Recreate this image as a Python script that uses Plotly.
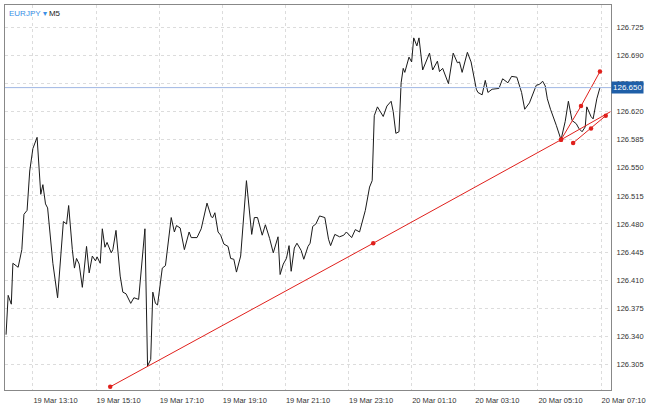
import plotly.graph_objects as go

# minutes relative to 19 Mar 13:10
minutes = [-51,-47,-41,-38,-28,-21,-17,-11,-6,0,8,15,19,24,28,38,47,58,64,68,75,79,83,88,94,102,107,113,119,122,128,132,137,141,149,152,158,166,171,177,186,192,201,213,218,224,228,233,237,246,252,263,269,273,280,288,297,301,312,320,331,339,342,346,352,357,363,371,376,382,387,395,406,412,416,421,427,436,442,450,457,466,470,476,482,487,491,497,502,510,515,523,527,532,538,545,555,562,566,574,583,591,596,606,613,621,632,640,645,649,655,666,673,681,685,690,696,700,704,707,715,720,724,730,734,741,754,760,769,773,779,790,799,807,811,816,826,833,843,846,854,860,865,873,886,893,903,910,920,929,935,944,957,963,969,974,978,984,989,995,1004,1012,1018,1025,1033,1038,1044,1050,1053,1061,1065,1072,1078]
prices = [126.342,126.391,126.380,126.431,126.426,126.448,126.492,126.497,126.546,126.574,126.588,126.517,126.529,126.505,126.500,126.431,126.388,126.483,126.480,126.503,126.448,126.425,126.437,126.430,126.401,126.452,126.419,126.440,126.434,126.439,126.431,126.474,126.451,126.457,126.444,126.448,126.472,126.415,126.395,126.393,126.381,126.388,126.386,126.474,126.303,126.311,126.395,126.381,126.379,126.425,126.428,126.488,126.470,126.478,126.475,126.448,126.470,126.463,126.463,126.474,126.506,126.489,126.488,126.494,126.470,126.466,126.455,126.452,126.437,126.436,126.420,126.440,126.534,126.489,126.467,126.488,126.488,126.466,126.479,126.462,126.444,126.464,126.417,126.430,126.437,126.453,126.421,126.450,126.456,126.447,126.436,126.452,126.456,126.477,126.480,126.490,126.488,126.461,126.453,126.467,126.464,126.466,126.470,126.463,126.473,126.470,126.497,126.526,126.534,126.615,126.626,126.614,126.627,126.633,126.620,126.593,126.595,126.656,126.674,126.669,126.688,126.682,126.712,126.702,126.712,126.672,126.693,126.672,126.683,126.670,126.674,126.655,126.693,126.681,126.682,126.669,126.694,126.682,126.648,126.644,126.641,126.659,126.644,126.648,126.649,126.661,126.656,126.664,126.663,126.644,126.623,126.631,126.653,126.654,126.658,126.652,126.636,126.623,126.615,126.603,126.585,126.608,126.633,126.609,126.605,126.599,126.595,126.601,126.626,126.614,126.611,126.636,126.650]

trend_x = [147, 647, 1004, 1098]
trend_y = [126.277, 126.456, 126.585, 126.620]
trend_mx = [147, 647, 1004]
trend_my = [126.277, 126.456, 126.585]
fork_x = [1004, 1042, 1078]
fork_y = [126.585, 126.627, 126.670]
chan_x = [1027, 1061, 1089]
chan_y = [126.581, 126.599, 126.615]
current_price = 126.650

tick_vals = [0,120,240,360,480,600,720,840,960,1080]
tick_text = ["19 Mar 13:10","19 Mar 15:10","19 Mar 17:10","19 Mar 19:10","19 Mar 21:10",
             "19 Mar 23:10","20 Mar 01:10","20 Mar 03:10","20 Mar 05:10","20 Mar 07:10"]
y_ticks = [126.305,126.340,126.375,126.410,126.445,126.480,126.515,126.550,126.585,126.620,126.655,126.690,126.725]

red = "#e0201c"
fig = go.Figure()
fig.add_hline(y=current_price, line=dict(color="#9fb6e3", width=1))
fig.add_trace(go.Scatter(x=minutes, y=prices, mode="lines", line=dict(color="#1a1a1a", width=1)))
fig.add_trace(go.Scatter(x=trend_x, y=trend_y, mode="lines", line=dict(color=red, width=1)))
fig.add_trace(go.Scatter(x=trend_mx, y=trend_my, mode="markers", marker=dict(color=red, size=4.5)))
fig.add_trace(go.Scatter(x=fork_x, y=fork_y, mode="lines+markers", line=dict(color=red, width=1), marker=dict(color=red, size=4.5)))
fig.add_trace(go.Scatter(x=chan_x, y=chan_y, mode="lines+markers", line=dict(color=red, width=1), marker=dict(color=red, size=4.5)))

fig.add_annotation(x=1, xref="paper", xanchor="left", y=current_price, yref="y",
                   text=f"{current_price:.3f}", showarrow=False,
                   font=dict(size=8, color="white", family="Liberation Sans"),
                   bgcolor="#1f5fa8", borderpad=1, xshift=0)
fig.add_annotation(x=0, xref="paper", xanchor="left", y=1, yref="paper", yanchor="top",
                   text="<span style='color:#3a8ee6'>EURJPY</span> <span style='color:#3a8ee6'>▾</span> M5",
                   showarrow=False, font=dict(size=8, color="#222", family="Liberation Sans"), xshift=2, yshift=-2)

grid = dict(showgrid=True, gridcolor="#dcdcdc", griddash="dot", gridwidth=1,
            showline=True, linecolor="#888", linewidth=1, mirror=True, zeroline=False,
            tickfont=dict(size=7.5, color="#333", family="Liberation Sans"), ticks="",
            ticklabelstandoff=3)
fig.update_layout(
    width=650, height=409, margin=dict(l=5, r=32, t=4, b=13),
    paper_bgcolor="white", plot_bgcolor="white", showlegend=False,
    xaxis=dict(range=[-53, 1099], tickvals=tick_vals, ticktext=tick_text,
               ticklabelposition="outside right", **grid),
    yaxis=dict(range=[126.273, 126.753], side="right", tickvals=y_ticks,
               tickformat=".3f", **grid),
)
fig.write_html("out.html", config={"displayModeBar": False},
               post_script="document.body.style.margin='0';document.body.style.overflow='hidden';")
